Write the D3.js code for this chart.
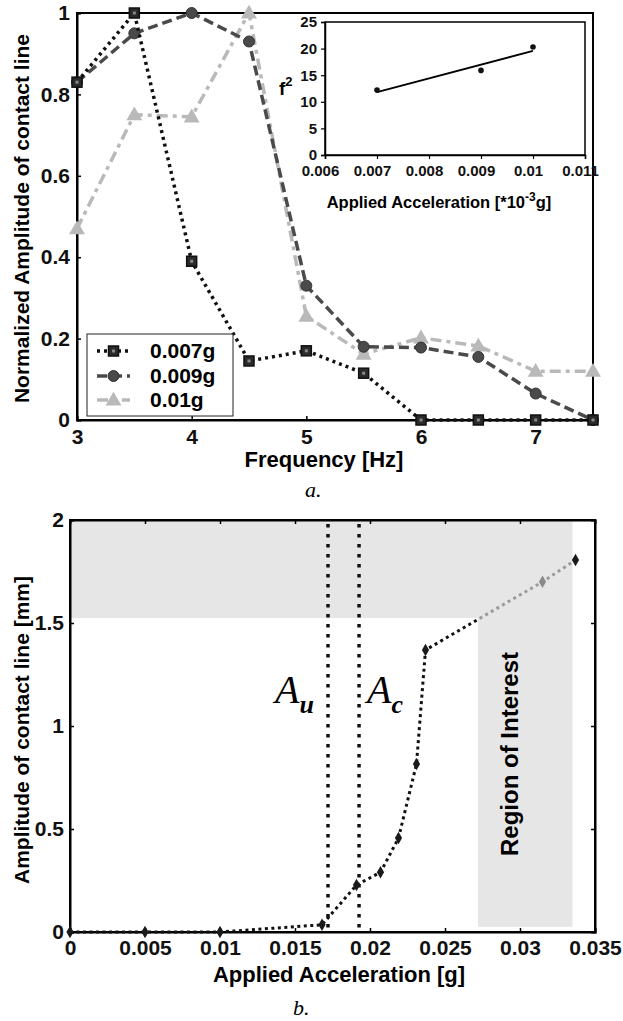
<!DOCTYPE html>
<html>
<head>
<meta charset="utf-8">
<script src="https://cdn.jsdelivr.net/npm/d3@7"></script>
<style>
  html, body { margin: 0; padding: 0; background: #ffffff; }
  svg { display: block; }
  .tick text { font-family: "Liberation Sans", Arial, sans-serif; font-weight: bold; fill: #111; }
</style>
</head>
<body>
<svg id="chart" width="623" height="1021"></svg>
<script>
// ---------- Data: panel a ----------
const freq = [3, 3.5, 4, 4.5, 5, 5.5, 6, 6.5, 7, 7.5];
const amp007 = [0.83, 1.0, 0.39, 0.145, 0.17, 0.115, 0, 0, 0, 0];
const amp009 = [0.83, 0.95, 1.0, 0.93, 0.33, 0.18, 0.178, 0.155, 0.065, 0];
const amp01  = [0.47, 0.75, 0.745, 1.0, 0.255, 0.162, 0.202, 0.182, 0.12, 0.12];
const seriesNames = ["0.007g", "0.009g", "0.01g"];
const freqTicks = [3, 4, 5, 6, 7];
const normTicks = [0, 0.2, 0.4, 0.6, 0.8, 1];

// ---------- Data: inset ----------
const insetAcc = [0.007, 0.009, 0.01];
const insetF2  = [12.2, 15.9, 20.3];
const insetXTicks = [0.006, 0.007, 0.008, 0.009, 0.01, 0.011];
const insetYTicks = [0, 5, 10, 15, 20, 25];

// ---------- Data: panel b ----------
const accel = [0, 0.005, 0.01, 0.0168, 0.0191, 0.0207, 0.0219, 0.0231, 0.0237, 0.0315, 0.0337];
const ampMm = [0, 0, 0, 0.035, 0.228, 0.29, 0.456, 0.815, 1.369, 1.70, 1.806];
const accelTicks = [0, 0.005, 0.01, 0.015, 0.02, 0.025, 0.03, 0.035];
const ampTicks = [0, 0.5, 1, 1.5, 2];
const thresholds = [0.0172, 0.01927];      // A_u, A_c
const thresholdSubs = ["u", "c"];
const roiX = [0.0272, 0.0335];             // region of interest (acceleration)
const bandY = [1.524, 2];                  // shaded amplitude band
const roiYmin = 0.025;

const svg = d3.select("#chart");
const SANS = "'Liberation Sans', Arial, sans-serif";
const SERIF = "'Liberation Serif', 'Times New Roman', serif";

// =================== Panel a ===================
const A = { l: 77, t: 13, r: 593, b: 420 };
const xa = d3.scaleLinear().domain([3, 7.5]).range([A.l, A.r]);
const ya = d3.scaleLinear().domain([0, 1]).range([A.b, A.t]);

const ga = svg.append("g");
ga.append("rect").attr("x", A.l).attr("y", A.t).attr("width", A.r - A.l).attr("height", A.b - A.t)
  .attr("fill", "none").attr("stroke", "#000").attr("stroke-width", 2);

const axA_x = ga.append("g").attr("transform", `translate(0,${A.b})`)
  .call(d3.axisBottom(xa).tickValues(freqTicks).tickFormat(d3.format("d")).tickSize(-4).tickPadding(9));
const axA_y = ga.append("g").attr("transform", `translate(${A.l},0)`)
  .call(d3.axisLeft(ya).tickValues(normTicks).tickFormat(d => d === 0 ? "0" : (d === 1 ? "1" : d3.format(".1f")(d))).tickSize(-4).tickPadding(7));
[axA_x, axA_y].forEach(g => {
  g.select(".domain").attr("stroke", "#000").attr("stroke-width", 2);
  g.selectAll(".tick line").attr("stroke", "#000").attr("stroke-width", 1.5);
  g.selectAll(".tick text").style("font-size", "21px");
});

const seriesA = [
  { name: seriesNames[2], vals: amp01,  color: "#b9b9b9", dash: "11,5,4,5", w: 3.5, marker: "tri" },
  { name: seriesNames[1], vals: amp009, color: "#4a4a4a", dash: "10,5", w: 3.5, marker: "circ" },
  { name: seriesNames[0], vals: amp007, color: "#111111", dash: "3,4", w: 3.5, marker: "sq" }
];
const lineA = d3.line().x(d => xa(d[0])).y(d => ya(d[1]));

function drawMarker(g, type, x, y, color) {
  if (type === "sq") {
    g.append("rect").attr("x", x - 5).attr("y", y - 5).attr("width", 10).attr("height", 10)
      .attr("fill", "#2a2a2a").attr("stroke", "#111").attr("stroke-width", 1.5);
    g.append("rect").attr("x", x - 1.5).attr("y", y - 1.5).attr("width", 3).attr("height", 3).attr("fill", "#888");
  } else if (type === "circ") {
    g.append("circle").attr("cx", x).attr("cy", y).attr("r", 5.5)
      .attr("fill", "#4a4a4a").attr("stroke", "#333").attr("stroke-width", 1);
  } else {
    g.append("path").attr("transform", `translate(${x},${y + 1})`)
      .attr("d", d3.symbol().type(d3.symbolTriangle).size(110)())
      .attr("fill", color);
  }
}

seriesA.forEach(s => {
  const pts = freq.map((f, i) => [f, s.vals[i]]);
  ga.append("path").attr("d", lineA(pts)).attr("fill", "none")
    .attr("stroke", s.color).attr("stroke-width", s.w).attr("stroke-dasharray", s.dash);
  pts.forEach(p => drawMarker(ga, s.marker, xa(p[0]), ya(p[1]), s.color));
});

// axis labels panel a
ga.append("text").attr("x", 324).attr("y", 467).attr("text-anchor", "middle")
  .style("font-family", SANS).style("font-weight", "bold").style("font-size", "22px")
  .text("Frequency [Hz]");
ga.append("text").attr("transform", `translate(29,${(A.t + A.b) / 2 + 2}) rotate(-90)`).attr("text-anchor", "middle")
  .style("font-family", SANS).style("font-weight", "bold").style("font-size", "21px")
  .text("Normalized Amplitude of contact line");

// legend
const lg = ga.append("g");
lg.append("rect").attr("x", 87).attr("y", 334).attr("width", 146).attr("height", 82)
  .attr("fill", "#fff").attr("stroke", "#222").attr("stroke-width", 1);
const legOrder = [seriesA[2], seriesA[1], seriesA[0]];
const legY = [351, 376, 400];
legOrder.forEach((s, i) => {
  lg.append("line").attr("x1", 97).attr("x2", 130).attr("y1", legY[i]).attr("y2", legY[i])
    .attr("stroke", s.color).attr("stroke-width", s.w).attr("stroke-dasharray", s.dash);
  drawMarker(lg, s.marker, 113.5, legY[i], s.color);
  lg.append("text").attr("x", 150).attr("y", legY[i] + 7)
    .style("font-family", SANS).style("font-weight", "bold").style("font-size", "21px").text(s.name);
});

// =================== Inset ===================
const I = { l: 325, t: 22, r: 585, b: 155 };
const xi = d3.scaleLinear().domain([0.006, 0.011]).range([I.l, I.r]);
const yi = d3.scaleLinear().domain([0, 25]).range([I.b, I.t]);
const gi = svg.append("g");
gi.append("rect").attr("x", I.l).attr("y", I.t).attr("width", I.r - I.l).attr("height", I.b - I.t)
  .attr("fill", "#fff").attr("stroke", "#000").attr("stroke-width", 1.5);
const axI_x = gi.append("g").attr("transform", `translate(0,${I.b})`)
  .call(d3.axisBottom(xi).tickValues(insetXTicks).tickFormat(d => String(+d.toFixed(3))).tickSize(4).tickPadding(6));
const axI_y = gi.append("g").attr("transform", `translate(${I.l},0)`)
  .call(d3.axisLeft(yi).tickValues(insetYTicks).tickFormat(d3.format("d")).tickSize(4).tickPadding(4));
[axI_x, axI_y].forEach(g => {
  g.select(".domain").attr("stroke", "#000").attr("stroke-width", 1.5);
  g.selectAll(".tick line").attr("stroke", "#000").attr("stroke-width", 1.2);
  g.selectAll(".tick text").style("font-size", "15px");
});
axI_x.selectAll(".tick text").attr("dx", -5);
// linear fit
const mx = d3.mean(insetAcc), my = d3.mean(insetF2);
const slope = d3.sum(insetAcc.map((x, i) => (x - mx) * (insetF2[i] - my))) / d3.sum(insetAcc.map(x => (x - mx) ** 2));
const fit = x => my + slope * (x - mx);
const ext = d3.extent(insetAcc);
gi.append("line").attr("x1", xi(ext[0])).attr("y1", yi(fit(ext[0]))).attr("x2", xi(ext[1])).attr("y2", yi(fit(ext[1])))
  .attr("stroke", "#000").attr("stroke-width", 1.8);
insetAcc.forEach((a, i) => {
  gi.append("circle").attr("cx", xi(a)).attr("cy", yi(insetF2[i])).attr("r", 2.8).attr("fill", "#111");
});
const fl = gi.append("text").attr("x", 279).attr("y", 95)
  .style("font-family", SANS).style("font-weight", "bold").style("font-size", "19px");
fl.append("tspan").text("f");
fl.append("tspan").attr("dy", -9).style("font-size", "13px").text("2");
const il = gi.append("text").attr("x", 439).attr("y", 208).attr("text-anchor", "middle")
  .style("font-family", SANS).style("font-weight", "bold").style("font-size", "16.5px");
il.append("tspan").text("Applied Acceleration [*10");
il.append("tspan").attr("dy", -7).style("font-size", "12px").text("-3");
il.append("tspan").attr("dy", 7).text("g]");

// caption a
svg.append("text").attr("x", 305).attr("y", 497)
  .style("font-family", SERIF).style("font-style", "italic").style("font-size", "22px").text("a.");

// =================== Panel b ===================
const B = { l: 70, t: 520, r: 595, b: 932 };
const xb = d3.scaleLinear().domain([0, 0.035]).range([B.l, B.r]);
const yb = d3.scaleLinear().domain([0, 2]).range([B.b, B.t]);
const gb = svg.append("g");

// shaded regions
gb.append("rect").attr("x", xb(0)).attr("y", yb(bandY[1])).attr("width", xb(roiX[1]) - xb(0))
  .attr("height", yb(bandY[0]) - yb(bandY[1])).attr("fill", "#e6e6e6");
gb.append("rect").attr("x", xb(roiX[0])).attr("y", yb(bandY[0]) - 0.5).attr("width", xb(roiX[1]) - xb(roiX[0]))
  .attr("height", yb(roiYmin) - yb(bandY[0]) + 0.5).attr("fill", "#e6e6e6");

// box and axes
gb.append("rect").attr("x", B.l).attr("y", B.t).attr("width", B.r - B.l).attr("height", B.b - B.t)
  .attr("fill", "none").attr("stroke", "#000").attr("stroke-width", 2);
const axB_x = gb.append("g").attr("transform", `translate(0,${B.b})`)
  .call(d3.axisBottom(xb).tickValues(accelTicks).tickFormat(d => String(+d.toFixed(3))).tickSize(-4).tickPadding(8));
const axB_y = gb.append("g").attr("transform", `translate(${B.l},0)`)
  .call(d3.axisLeft(yb).tickValues(ampTicks).tickFormat(d => String(d)).tickSize(-4).tickPadding(6));
const axB_top = gb.append("g").attr("transform", `translate(0,${B.t})`)
  .call(d3.axisTop(xb).tickValues(accelTicks.slice(1, -1)).tickFormat("").tickSize(-4));
const axB_right = gb.append("g").attr("transform", `translate(${B.r},0)`)
  .call(d3.axisRight(yb).tickValues(ampTicks.slice(1, -1)).tickFormat("").tickSize(-4));
[axB_x, axB_y, axB_top, axB_right].forEach(g => {
  g.select(".domain").attr("stroke", "#000").attr("stroke-width", 2);
  g.selectAll(".tick line").attr("stroke", "#000").attr("stroke-width", 1.5);
  g.selectAll(".tick text").style("font-size", "21px");
});

// threshold lines
thresholds.forEach(t => {
  gb.append("line").attr("x1", xb(t)).attr("x2", xb(t)).attr("y1", yb(2) + 4).attr("y2", yb(0) - 4)
    .attr("stroke", "#111").attr("stroke-width", 3.5).attr("stroke-dasharray", "3.5,6.5");
});

// data line: black outside ROI, grey inside ROI
const defs = svg.append("defs");
defs.append("clipPath").attr("id", "clipL").append("rect")
  .attr("x", 0).attr("y", 0).attr("width", xb(roiX[0])).attr("height", 1021);
defs.append("clipPath").attr("id", "clipR").append("rect")
  .attr("x", xb(roiX[0])).attr("y", 0).attr("width", 623).attr("height", 1021);
const ptsB = accel.map((a, i) => [a, ampMm[i]]);
const lineB = d3.line().x(d => xb(d[0])).y(d => yb(d[1]));
gb.append("path").attr("d", lineB(ptsB)).attr("clip-path", "url(#clipL)").attr("fill", "none")
  .attr("stroke", "#111").attr("stroke-width", 3).attr("stroke-dasharray", "3,3.5");
gb.append("path").attr("d", lineB(ptsB)).attr("clip-path", "url(#clipR)").attr("fill", "none")
  .attr("stroke", "#9a9a9a").attr("stroke-width", 3).attr("stroke-dasharray", "3,3.5");
ptsB.forEach((p, i) => {
  const inRoi = p[0] >= roiX[0] && i < ptsB.length - 1;
  gb.append("path").attr("transform", `translate(${xb(p[0])},${yb(p[1])})`)
    .attr("d", d3.symbol().type(d3.symbolDiamond).size(45)())
    .attr("fill", inRoi ? "#8a8a8a" : "#1a1a1a");
});

// threshold labels
const tl = [
  { x: xb(thresholds[0]) - 53, sub: thresholdSubs[0], subBold: true },
  { x: xb(thresholds[1]) + 8, sub: thresholdSubs[1], subBold: false }
];
tl.forEach(o => {
  const t = gb.append("text").attr("x", o.x).attr("y", yb(1.11))
    .style("font-family", SERIF).style("font-style", "italic").style("font-size", "40px");
  t.append("tspan").text("A");
  t.append("tspan").attr("dy", 10).style("font-size", "26px").style("font-weight", "bold").text(o.sub);
});

// Region of interest label
gb.append("text").attr("transform", `translate(518,754) rotate(-90)`).attr("text-anchor", "middle")
  .style("font-family", SANS).style("font-weight", "bold").style("font-size", "24px")
  .text("Region of Interest");

// axis labels panel b
gb.append("text").attr("x", 339).attr("y", 982).attr("text-anchor", "middle")
  .style("font-family", SANS).style("font-weight", "bold").style("font-size", "22px")
  .text("Applied Acceleration [g]");
gb.append("text").attr("transform", `translate(29,730) rotate(-90)`).attr("text-anchor", "middle")
  .style("font-family", SANS).style("font-weight", "bold").style("font-size", "21px")
  .text("Amplitude of contact line [mm]");

// caption b
svg.append("text").attr("x", 293).attr("y", 1015)
  .style("font-family", SERIF).style("font-style", "italic").style("font-size", "22px").text("b.");
</script>
</body>
</html>
